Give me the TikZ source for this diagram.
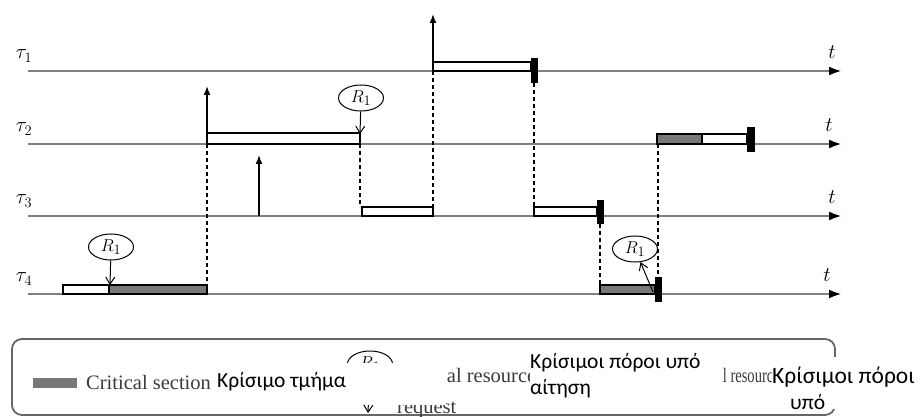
\documentclass[tikz,border=0pt]{standalone}
\usepackage{fontspec}
\setmainfont{Liberation Serif}
\newfontfamily\greekfont{Carlito}
\usetikzlibrary{arrows.meta,shapes.geometric}

\definecolor{axisgrey}{HTML}{808080}
\definecolor{critgrey}{HTML}{787878}
\definecolor{legtext}{HTML}{3A3A3A}
\definecolor{legframe}{HTML}{666666}

\begin{document}
\begin{tikzpicture}[x=1pt,y=-1pt,
  axis/.style={draw=axisgrey,line width=2.5pt,-{Latex[length=13pt,width=9pt,color=black]}},
  tlab/.style={inner sep=0pt,font=\fontsize{21}{23}\selectfont},
  rel/.style={draw=black,line width=1.5pt,-{Latex[length=9pt,width=7pt]}},
  runbox/.style={draw=black,line width=1.3pt,fill=white},
  critbox/.style={draw=black,line width=1.3pt,fill=critgrey},
  endblk/.style={fill=black},
  sync/.style={draw=black,line width=1.3pt,dash pattern=on 4pt off 3pt},
  res/.style={ellipse,draw=black,line width=1pt,minimum width=45pt,minimum height=26pt,
              inner sep=0pt,font=\fontsize{19}{21}\selectfont},
  req/.style={draw=black,line width=1pt,-{Straight Barb[length=7pt,width=9pt]}},
  legtxt/.style={inner sep=0pt,text=legtext,font=\fontsize{20.5}{24}\selectfont},
  gtxt/.style={inner sep=0pt,font=\greekfont\fontsize{21.5}{24}\selectfont},
  cover/.style={fill=white,draw=none}]

\useasboundingbox (0,0) rectangle (924,417);

% time axes with task and time labels
\foreach \i/\y/\tx in {1/71/832,2/144/829,3/216/832,4/294/827}{
  \coordinate (s\i) at (28,\y);
  \coordinate (e\i) at (842,\y);
  \draw[axis] (s\i) -- (e\i);
  \node[tlab] (tau\i) at (24,\y-15) {$\tau_\i$};
  \node[tlab] (t\i) at (\tx,\y-19) {$t$};
}

% key instants
\coordinate (a1) at (433,71);   \coordinate (a1t) at (433,14);
\coordinate (a2) at (207,144);  \coordinate (a2t) at (207,86);
\coordinate (a3) at (259,216);  \coordinate (a3t) at (259,155);
\coordinate (d2a) at (360,144); \coordinate (d2b) at (360,207);
\coordinate (d1a) at (433,71);  \coordinate (d1b) at (433,207);
\coordinate (d4a) at (207,144); \coordinate (d4b) at (207,294);
\coordinate (d5a) at (534,83);  \coordinate (d5b) at (534,207);
\coordinate (d6a) at (600,224); \coordinate (d6b) at (600,285);
\coordinate (d7a) at (658,144); \coordinate (d7b) at (658,277);

% synchronisation lines
\draw[sync] (d4a) -- (d4b);
\draw[sync] (d2a) -- (d2b);
\draw[sync] (d1a) -- (d1b);
\draw[sync] (d5a) -- (d5b);
\draw[sync] (d6a) -- (d6b);
\draw[sync] (d7a) -- (d7b);

% task releases
\draw[rel] (a1) -- (a1t);
\draw[rel] (a2) -- (a2t);
\draw[rel] (a3) -- (a3t);

% tau_1
\draw[runbox] (433,62) rectangle (531,71);
\fill[endblk] (531,58) rectangle (538,83);
% tau_2
\draw[runbox] (207,133) rectangle (360,144);
\draw[critbox] (657,134) rectangle (702,144);
\draw[runbox] (702,134) rectangle (747,144);
\fill[endblk] (747,127) rectangle (755,152);
% tau_3
\draw[runbox] (362,207) rectangle (433,216);
\draw[runbox] (534,207) rectangle (597,216);
\fill[endblk] (597,200) rectangle (604,224);
% tau_4
\draw[runbox] (63,285) rectangle (109,294);
\draw[critbox] (109,285) rectangle (207,294);
\draw[critbox] (600,285) rectangle (655,294);
\fill[endblk] (655,277) rectangle (662,302);

% resource requests and release
\node[res] (q2) at (361,98) {$R_1$};
\coordinate (q2e) at (360,134);
\draw[req] (q2) -- (q2e);
\node[res] (q4) at (111,247) {$R_1$};
\coordinate (q4e) at (110,285);
\draw[req] (q4) -- (q4e);
\node[res] (q4b) at (635,249) {$R_1$};
\coordinate (q4bs) at (653,292);
\draw[req] (q4bs) -- (q4b);

% legend
\draw[legframe,line width=1.8pt,rounded corners=10pt] (12,339) rectangle (835,415);
\fill[critgrey] (33,378) rectangle (77,388);
\node[legtxt,anchor=base west] (lcs) at (86,389) {Critical section};
\node[res] (lq) at (370,364) {$R_1$};
\coordinate (lqe) at (368,413);
\draw[req] (lq) -- (lqe);
\node[legtxt,anchor=base west] (lr1) at (400,382) {Critical resource};
\node[legtxt,anchor=base west] (lr2) at (397,413) {request};
\node[legtxt,anchor=base west] (lr3) at (683,382) {\scalebox{0.71}[1]{Critical resource}};

% translated captions laid over the legend
\fill[cover] (215,363) rectangle (446,405);
\fill[cover] (530,343) rectangle (722,412);
\fill[cover] (772,357) rectangle (924,409);
\node[gtxt,anchor=base west] (g1) at (217,387) {Κρίσιμο τμήμα};
\node[gtxt,anchor=base west] (g2) at (530,368) {Κρίσιμοι πόροι υπό};
\node[gtxt,anchor=base west] (g3) at (530,394) {αίτηση};
\node[gtxt,anchor=base west,font=\greekfont\fontsize{23.5}{26}\selectfont] (g4) at (772,383) {Κρίσιμοι πόροι};
\node[gtxt,anchor=base west] (g5) at (790,409) {υπό};
\end{tikzpicture}
\end{document}
